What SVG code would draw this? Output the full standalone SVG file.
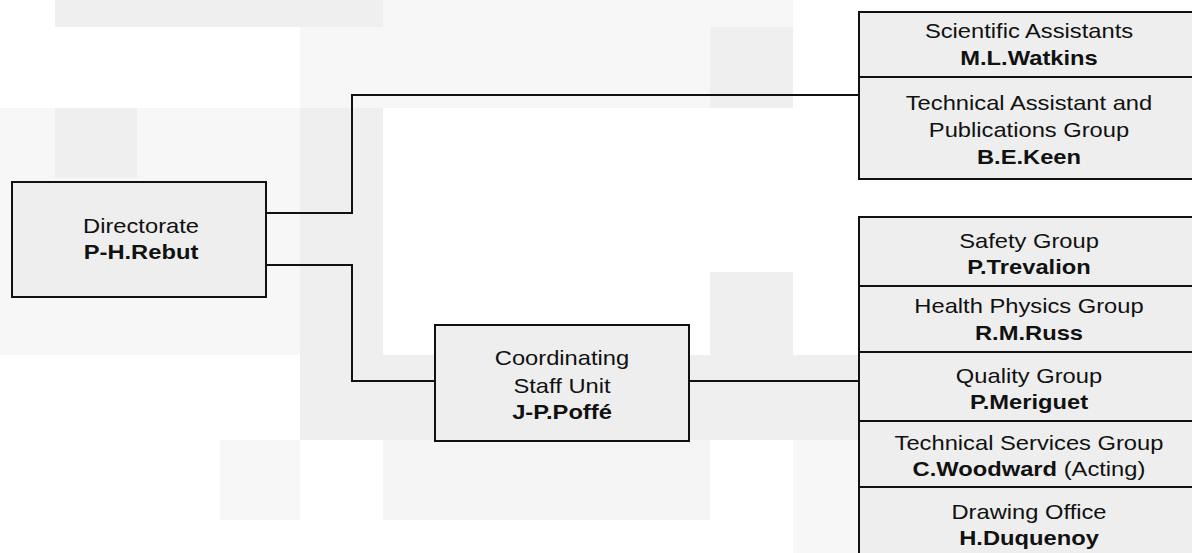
<svg xmlns="http://www.w3.org/2000/svg" width="1192" height="553" viewBox="0 0 1192 553">
<style>
.box{fill:#eeeeee;stroke:#111;stroke-width:2}
.line{fill:none;stroke:#111;stroke-width:2}
text{font-family:"Liberation Sans",Arial,sans-serif;font-size:21px;fill:#111;text-anchor:middle}
.b{font-weight:bold}
</style>
<rect width="1192" height="553" fill="#ffffff"/>
<g id="background">
<rect x="55" y="0" width="328" height="27" fill="#efefef"/>
<rect x="383" y="0" width="410" height="27" fill="#f7f7f7"/>
<rect x="300" y="27" width="410" height="81" fill="#f7f7f7"/>
<rect x="710" y="27" width="83" height="81" fill="#efefef"/>
<rect x="0" y="108" width="300" height="247" fill="#f7f7f7"/>
<rect x="55" y="108" width="82" height="70" fill="#efefef"/>
<rect x="300" y="108" width="83" height="247" fill="#efefef"/>
<rect x="383" y="108" width="410" height="247" fill="#ffffff"/>
<rect x="300" y="355" width="560" height="85" fill="#efefef"/>
<rect x="710" y="272" width="83" height="83" fill="#efefef"/>
<rect x="220" y="440" width="80" height="80" fill="#f7f7f7"/>
<rect x="383" y="440" width="327" height="80" fill="#f5f5f5"/>
<rect x="793" y="440" width="66" height="113" fill="#f7f7f7"/>
</g>
<g id="connectors">
<polyline class="line" points="266,213 352,213 352,95 859,95"/>
<polyline class="line" points="266,265 352,265 352,381 435,381"/>
<line class="line" x1="689" y1="381" x2="859" y2="381"/>
</g>
<g id="directorate">
<rect class="box" x="12" y="182" width="254" height="115"/>
<g transform="translate(141 0) scale(1.13 1)">
<text x="0" y="233">Directorate</text>
<text class="b" x="0" y="259">P-H.Rebut</text>
</g>
</g>
<g id="coordinating">
<rect class="box" x="435" y="325" width="254" height="116"/>
<g transform="translate(562 0) scale(1.13 1)">
<text x="0" y="365">Coordinating</text>
<text x="0" y="393">Staff Unit</text>
<text class="b" x="0" y="419">J-P.Poffé</text>
</g>
</g>
<g id="scientific-assistants">
<rect class="box" x="859" y="12" width="345" height="65"/>
<g transform="translate(1029 0) scale(1.13 1)">
<text x="0" y="38">Scientific Assistants</text>
<text class="b" x="0" y="65">M.L.Watkins</text>
</g>
</g>
<g id="technical-assistant">
<rect class="box" x="859" y="77" width="345" height="102"/>
<g transform="translate(1029 0) scale(1.13 1)">
<text x="0" y="110">Technical Assistant and</text>
<text x="0" y="137">Publications Group</text>
<text class="b" x="0" y="164">B.E.Keen</text>
</g>
</g>
<g id="safety">
<rect class="box" x="859" y="217" width="345" height="69"/>
<g transform="translate(1029 0) scale(1.13 1)">
<text x="0" y="248">Safety Group</text>
<text class="b" x="0" y="274">P.Trevalion</text>
</g>
</g>
<g id="health-physics">
<rect class="box" x="859" y="286" width="345" height="66"/>
<g transform="translate(1029 0) scale(1.13 1)">
<text x="0" y="313">Health Physics Group</text>
<text class="b" x="0" y="340">R.M.Russ</text>
</g>
</g>
<g id="quality">
<rect class="box" x="859" y="352" width="345" height="69"/>
<g transform="translate(1029 0) scale(1.13 1)">
<text x="0" y="383">Quality Group</text>
<text class="b" x="0" y="409">P.Meriguet</text>
</g>
</g>
<g id="technical-services">
<rect class="box" x="859" y="421" width="345" height="66"/>
<g transform="translate(1029 0) scale(1.13 1)">
<text x="0" y="450">Technical Services Group</text>
<text x="0" y="476"><tspan class="b">C.Woodward</tspan> (Acting)</text>
</g>
</g>
<g id="drawing-office">
<rect class="box" x="859" y="487" width="345" height="80"/>
<g transform="translate(1029 0) scale(1.13 1)">
<text x="0" y="519">Drawing Office</text>
<text class="b" x="0" y="545">H.Duquenoy</text>
</g>
</g>
</svg>
